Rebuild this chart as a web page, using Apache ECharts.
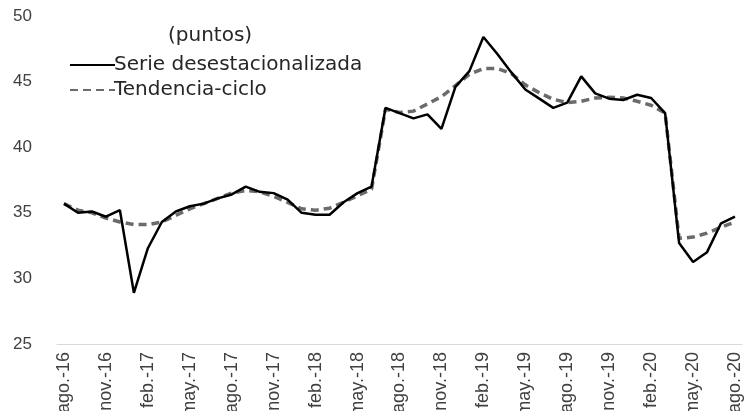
<!DOCTYPE html>
<html>
<head>
<meta charset="utf-8">
<script src="https://cdn.jsdelivr.net/npm/echarts@6/dist/echarts.min.js"></script>
<style>
  html, body { margin: 0; padding: 0; background: #fff; }
  #chart { width: 751px; height: 411px; }
</style>
</head>
<body>
<div id="chart"></div>
<script>
// Monthly categories, ago.-16 to ago.-20
const months = [
    'ago.-16', 'sep.-16', 'oct.-16', 'nov.-16', 'dic.-16', 'ene.-17', 'feb.-17', 'mar.-17', 'abr.-17', 'may.-17', 'jun.-17', 'jul.-17',
    'ago.-17', 'sep.-17', 'oct.-17', 'nov.-17', 'dic.-17', 'ene.-18', 'feb.-18', 'mar.-18', 'abr.-18', 'may.-18', 'jun.-18', 'jul.-18',
    'ago.-18', 'sep.-18', 'oct.-18', 'nov.-18', 'dic.-18', 'ene.-19', 'feb.-19', 'mar.-19', 'abr.-19', 'may.-19', 'jun.-19', 'jul.-19',
    'ago.-19', 'sep.-19', 'oct.-19', 'nov.-19', 'dic.-19', 'ene.-20', 'feb.-20', 'mar.-20', 'abr.-20', 'may.-20', 'jun.-20', 'jul.-20',
    'ago.-20'
];

const serieDesest = [
    35.7, 35.0, 35.1, 34.7, 35.2, 28.9, 32.3, 34.3, 35.1, 35.5, 35.7, 36.1,
    36.4, 37.0, 36.6, 36.5, 36.0, 35.0, 34.85, 34.85, 35.8, 36.5, 37.0, 43.0,
    42.6, 42.2, 42.5, 41.4, 44.6, 45.8, 48.4, 47.1, 45.7, 44.4, 43.7, 43.0,
    43.4, 45.4, 44.1, 43.7, 43.6, 44.0, 43.75, 42.6, 32.7, 31.25, 32.0, 34.2,
    34.7
];

const tendencia = [
    35.7, 35.2, 35.0, 34.6, 34.3, 34.1, 34.1, 34.3, 34.8, 35.3, 35.7, 36.1,
    36.5, 36.7, 36.6, 36.25, 35.8, 35.3, 35.2, 35.35, 35.8, 36.3, 36.8, 42.9,
    42.65, 42.75, 43.3, 43.85, 44.7, 45.55, 46.0, 46.0, 45.6, 44.75, 44.15, 43.65,
    43.4, 43.5, 43.75, 43.8, 43.75, 43.5, 43.2, 42.6, 33.05, 33.15, 33.45, 33.9,
    34.3
];

const chart = echarts.init(document.getElementById('chart'), null, { renderer: 'canvas' });

const option = {
    backgroundColor: '#ffffff',
    animation: false,
    title: {
        text: '(puntos)',
        left: 163,
        top: 21,
        textStyle: {
            fontFamily: 'DejaVu Sans',
            fontSize: 20,
            fontWeight: 'normal',
            color: '#262626'
        }
    },
    legend: {
        orient: 'vertical',
        left: 64,
        top: 50,
        itemWidth: 45,
        itemHeight: 14,
        itemGap: 5,
        itemStyle: { opacity: 0 },
        textStyle: {
            fontFamily: 'DejaVu Sans',
            fontSize: 20,
            color: '#262626',
            padding: [0, 0, 0, -6]
        },
        data: ['Serie desestacionalizada', 'Tendencia-ciclo']
    },
    grid: {
        left: 57,
        right: 9,
        top: 16,
        bottom: 67,
        outerBoundsMode: 'none'
    },
    xAxis: {
        type: 'category',
        data: months,
        boundaryGap: true,
        axisLine: { lineStyle: { color: '#d9d9d9', width: 1 } },
        axisTick: {
            interval: 2,
            length: 5,
            lineStyle: { color: '#d9d9d9' }
        },
        axisLabel: {
            interval: 2,
            rotate: 90,
            margin: 8,
            fontFamily: 'Liberation Sans',
            fontSize: 18,
            color: '#404040'
        }
    },
    yAxis: {
        type: 'value',
        min: 25,
        max: 50,
        interval: 5,
        axisLine: { show: false },
        axisTick: { show: false },
        splitLine: { show: false },
        axisLabel: {
            margin: 25,
            fontFamily: 'Liberation Sans',
            fontSize: 17,
            color: '#404040'
        }
    },
    series: [
        {
            name: 'Serie desestacionalizada',
            type: 'line',
            data: serieDesest,
            symbol: 'none',
            z: 3,
            itemStyle: { color: '#000000' },
            lineStyle: { color: '#000000', width: 2.5 }
        },
        {
            name: 'Tendencia-ciclo',
            type: 'line',
            data: tendencia,
            symbol: 'none',
            z: 2,
            itemStyle: { color: '#6b6b6b' },
            lineStyle: { color: '#6b6b6b', width: 3.5, type: [8, 5] }
        }
    ]
};

chart.setOption(option);
</script>
</body>
</html>
